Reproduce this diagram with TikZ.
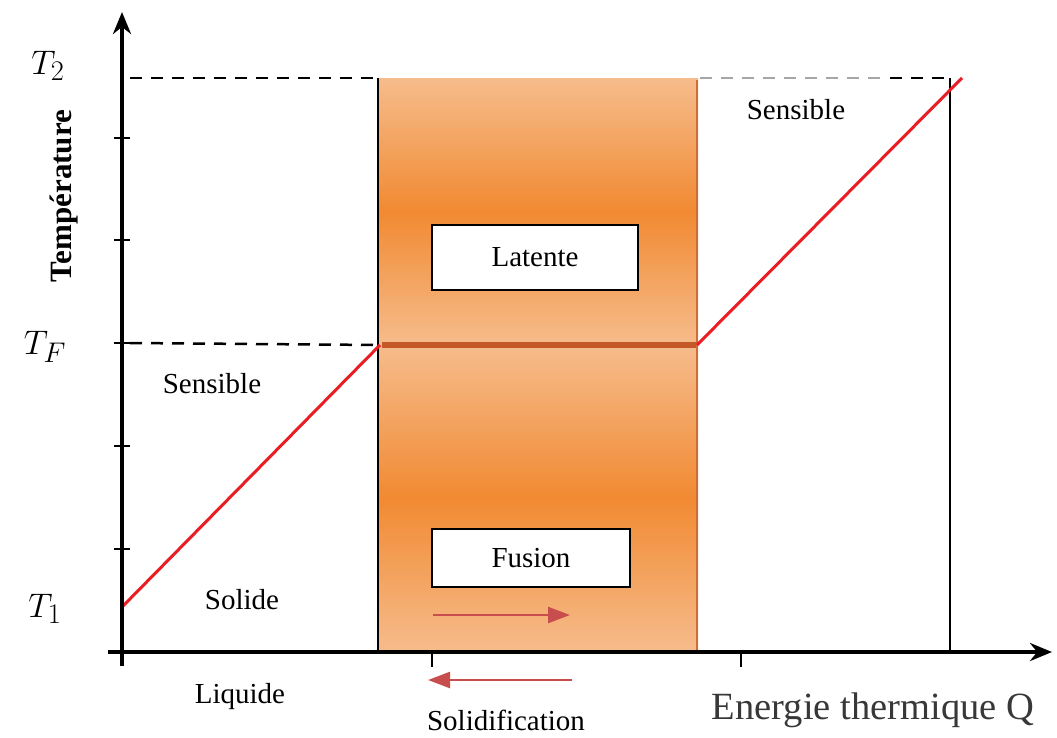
\documentclass[tikz,border=0pt]{standalone}
\usepackage{fontspec}
\setmainfont{Liberation Serif}
\usetikzlibrary{arrows.meta}
\definecolor{orlight}{RGB}{246,188,140}
\definecolor{ormid}{RGB}{241,138,50}
\definecolor{ordark}{RGB}{196,88,38}
\definecolor{curvered}{RGB}{232,30,36}
\definecolor{arrred}{RGB}{200,78,78}
\tikzset{
  lbl/.style={font=\fontsize{29}{33}\selectfont, inner sep=0pt},
  tlbl/.style={font=\fontsize{24.88}{30}\selectfont, inner sep=0pt, scale=1.37, transform shape},
  whitebox/.style={draw=black, line width=2pt, fill=white, font=\fontsize{29}{33}\selectfont, inner sep=0pt},
  axis/.style={line width=4.5pt, -{Stealth[length=22pt,width=18pt]}},
  tick/.style={line width=2.5pt},
  dashline/.style={line width=2.5pt, dash pattern=on 12pt off 9pt},
  curve/.style={curvered, line width=3pt},
  procarrow/.style={arrred, line width=2.5pt, -{Triangle[length=22pt,width=16pt]}},
  band/.style={top color=orlight, bottom color=orlight, middle color=ormid}
}
\begin{document}
\begin{tikzpicture}[x=1pt,y=-1pt]
\useasboundingbox (0,0) rectangle (1057,737);
% orange band
\shade[band] (378,78) rectangle (698,345);
\shade[band] (378,345) rectangle (698,652);
\draw[ordark, line width=3pt] (378,652) -- (698,652);
\draw[ordark!80!orlight, line width=1.5pt] (697,80) -- (697,652);
\draw[ordark, line width=6pt] (382,345) -- (696,345);
\draw[black, line width=1.5pt] (378,78) -- (378,652);
% coordinates
\coordinate (yend) at (122,12);
\coordinate (ystart) at (122,666);
\coordinate (xstart) at (108,652);
\coordinate (xend) at (1052,652);
\coordinate (c1) at (122,607);
\coordinate (c2) at (380,345);
\coordinate (c3) at (697,345);
\coordinate (c4) at (962,78);
\coordinate (v1) at (950,78);
\coordinate (v2) at (950,652);
% dashed guides
\draw[dashline] (130,78) -- (378,78);
\draw[dashline, black!35] (700,78) -- (880,78);
\draw[dashline] (890,78) -- (v1);
\draw[dashline] (130,343) -- (c2);
% vertical line
\draw[line width=2pt] (v1) -- (v2);
% curve
\draw[curve] (c1) -- (c2);
\draw[curve] (c3) -- (c4);
% axes
\draw[axis] (ystart) -- (yend);
\draw[axis] (xstart) -- (xend);
\foreach \yy in {138,240,343,446,549} \draw[tick] (114,\yy) -- (130,\yy);
\foreach \xx in {432,741} \draw[tick] (\xx,652) -- (\xx,667);
% boxes
\node[whitebox, minimum width=206pt, minimum height=65pt] (lat) at (535,257.5) {Latente};
\node[whitebox, minimum width=198pt, minimum height=58pt] (fus) at (531,558) {Fusion};
% process arrows
\coordinate (fa1) at (433,615);
\coordinate (fa2) at (570,615);
\coordinate (sa1) at (572,680);
\coordinate (sa2) at (428,680);
\draw[procarrow] (fa1) -- (fa2);
\draw[procarrow] (sa1) -- (sa2);
% labels
\node[tlbl] (t2) at (48,66) {$T_2$};
\node[tlbl] (tf) at (45,347) {$T_F$};
\node[tlbl] (t1) at (45,609) {$T_1$};
\node[font=\fontsize{31}{35}\selectfont\bfseries, inner sep=0pt, rotate=90] (temp) at (64,196) {Température};
\node[lbl] (sens1) at (212,384) {Sensible};
\node[lbl] (sol) at (242,600) {Solide};
\node[lbl] (liq) at (240,697) {Liquide};
\node[lbl] (solid) at (506,720) {Solidification};
\node[lbl] (sens2) at (796,110) {Sensible};
\node[font=\fontsize{38.5}{42}\selectfont, text=black!78, inner sep=0pt] (energ) at (873,710) {Energie thermique Q};
\end{tikzpicture}
\end{document}
